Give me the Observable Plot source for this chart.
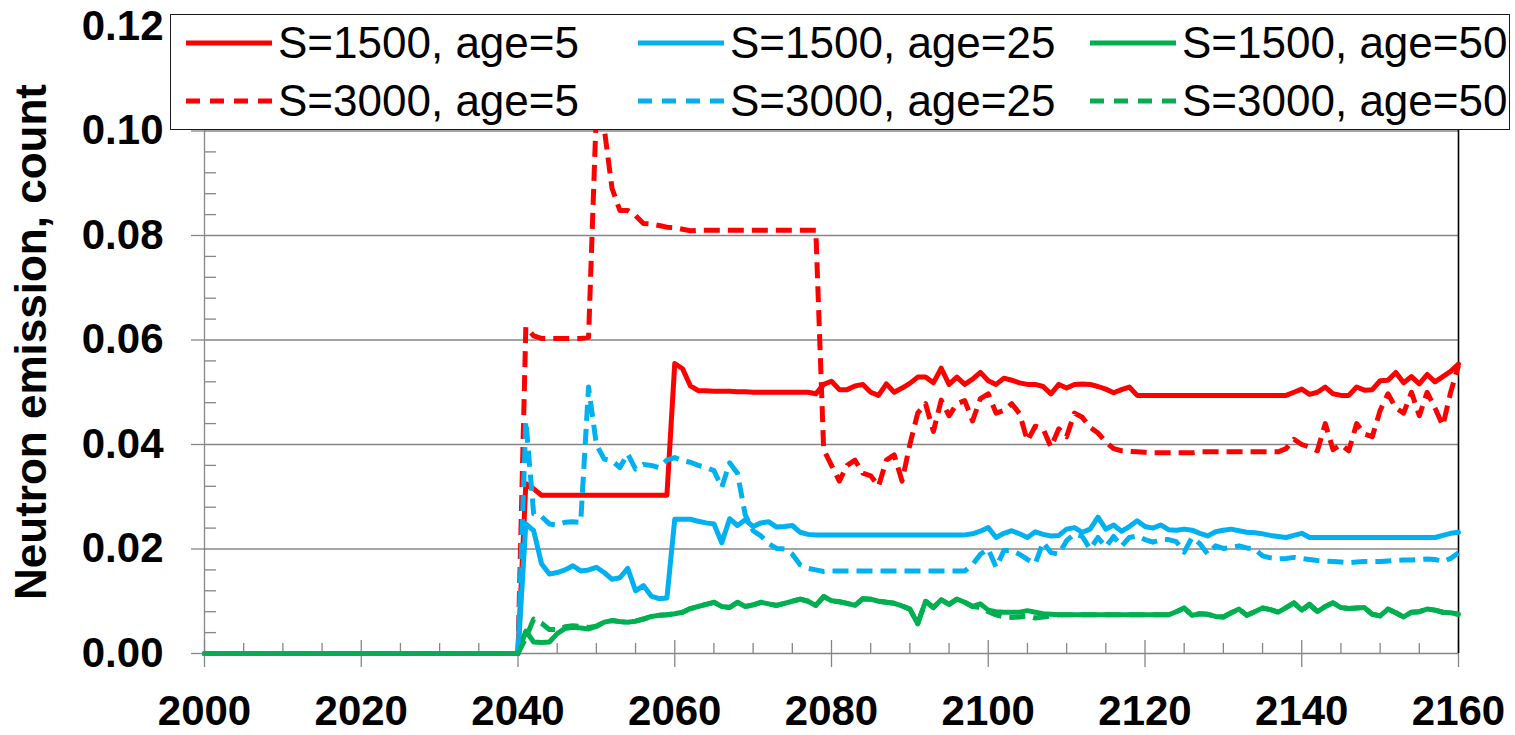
<!DOCTYPE html>
<html>
<head>
<meta charset="utf-8">
<script src="https://cdn.jsdelivr.net/npm/d3@7"></script>
<script src="https://cdn.jsdelivr.net/npm/@observablehq/plot@0.6"></script>
<style>
  html, body { margin: 0; padding: 0; background: #fff; }
  #chart { position: relative; width: 1515px; height: 735px; overflow: hidden;
           font-family: "Liberation Sans", Arial, sans-serif; }
  #legend { position: absolute; left: 170px; top: 14px; width: 1340px; height: 116px;
            box-sizing: border-box; border: 1.5px solid #1a1a1a; background: #fff; }
  .item { position: absolute; height: 44px; display: flex; align-items: center; }
  .item svg { display: block; }
  .item span { font-size: 44px; line-height: 44px; color: #000; white-space: nowrap; margin-left: 6px; }
</style>
</head>
<body>
<div id="chart"></div>
<script>
// Years: flat zero from 2000, then yearly values 2040–2160
const years = [2000].concat(d3.range(2040, 2161));

// Axis ticks
const xMajor = [2000, 2020, 2040, 2060, 2080, 2100, 2120, 2140, 2160];
const xMinor = d3.range(2005, 2160, 5).filter(y => y % 20 !== 0);
const yMajor = [0, 0.02, 0.04, 0.06, 0.08, 0.10, 0.12];
const yMinor = d3.range(1, 30).filter(i => i % 5 !== 0).map(i => i * 0.004);

const yTitle = "Neutron emission, count";

// Series values (first entry is year 2000, then 2040, 2041, ... 2160)
const s1500age5 = [0,
  0, 0.0325, 0.0315, 0.0303, 0.0303, 0.0303, 0.0303, 0.0303, 0.0303, 0.0303,
  0.0303, 0.0303, 0.0303, 0.0303, 0.0303, 0.0303, 0.0303, 0.0303, 0.0303, 0.0303,
  0.0555, 0.0545, 0.0512, 0.0503, 0.0503, 0.0502, 0.0502, 0.0502, 0.0501, 0.0501,
  0.0500, 0.0500, 0.0500, 0.0500, 0.0500, 0.0500, 0.0500, 0.0500, 0.0497, 0.0515,
  0.0521, 0.0505, 0.0505, 0.0512, 0.0515, 0.0500, 0.0494, 0.0516, 0.0500, 0.0508,
  0.0517, 0.0529, 0.0529, 0.0518, 0.0546, 0.0515, 0.0529, 0.0515, 0.0525, 0.0538,
  0.0522, 0.0515, 0.0527, 0.0523, 0.0518, 0.0515, 0.0515, 0.0511, 0.0497, 0.0515,
  0.0508, 0.0515, 0.0516, 0.0515, 0.0511, 0.0506, 0.0499, 0.0505, 0.0510, 0.0494,
  0.0494, 0.0494, 0.0494, 0.0494, 0.0494, 0.0494, 0.0494, 0.0494, 0.0494, 0.0494,
  0.0494, 0.0494, 0.0494, 0.0494, 0.0494, 0.0494, 0.0494, 0.0494, 0.0494, 0.0500,
  0.0506, 0.0496, 0.0500, 0.0510, 0.0497, 0.0494, 0.0494, 0.0510, 0.0504, 0.0505,
  0.0522, 0.0523, 0.0538, 0.0518, 0.0530, 0.0516, 0.0534, 0.0520, 0.0530, 0.0540,
  0.0554];

const s3000age5 = [0,
  0, 0.0625, 0.0608, 0.0603, 0.0603, 0.0603, 0.0603, 0.0603, 0.0603, 0.0605,
  0.1040, 0.1005, 0.0890, 0.0848, 0.0848, 0.0838, 0.0823, 0.0822, 0.0819, 0.0816,
  0.0815, 0.0812, 0.0809, 0.0810, 0.0810, 0.0810, 0.0810, 0.0810, 0.0810, 0.0810,
  0.0810, 0.0810, 0.0810, 0.0810, 0.0810, 0.0810, 0.0810, 0.0810, 0.0810, 0.0390,
  0.0360, 0.0330, 0.0360, 0.0370, 0.0345, 0.0340, 0.0320, 0.0370, 0.0380, 0.0330,
  0.0400, 0.0460, 0.0478, 0.0425, 0.0485, 0.0455, 0.0478, 0.0484, 0.0445, 0.0488,
  0.0497, 0.0460, 0.0465, 0.0478, 0.0459, 0.0407, 0.0435, 0.0430, 0.0395, 0.0430,
  0.0415, 0.0460, 0.0452, 0.0433, 0.0422, 0.0405, 0.0392, 0.0388, 0.0387, 0.0386,
  0.0385, 0.0384, 0.0384, 0.0384, 0.0384, 0.0384, 0.0384, 0.0386, 0.0386, 0.0386,
  0.0386, 0.0386, 0.0386, 0.0386, 0.0386, 0.0386, 0.0386, 0.0386, 0.0392, 0.0410,
  0.0400, 0.0395, 0.0388, 0.0440, 0.0390, 0.0400, 0.0388, 0.0440, 0.0420, 0.0415,
  0.0465, 0.0497, 0.0470, 0.0460, 0.0500, 0.0455, 0.0500, 0.0470, 0.0436, 0.0500,
  0.0551];

const s1500age25 = [0,
  0, 0.0248, 0.0235, 0.0172, 0.0152, 0.0155, 0.0160, 0.0168, 0.0158, 0.0160,
  0.0165, 0.0155, 0.0142, 0.0145, 0.0163, 0.0120, 0.0130, 0.0110, 0.0105, 0.0106,
  0.0257, 0.0257, 0.0257, 0.0253, 0.0250, 0.0248, 0.0212, 0.0258, 0.0245, 0.0256,
  0.0243, 0.0250, 0.0252, 0.0242, 0.0243, 0.0245, 0.0232, 0.0228, 0.0227, 0.0227,
  0.0227, 0.0227, 0.0227, 0.0227, 0.0227, 0.0227, 0.0227, 0.0227, 0.0227, 0.0227,
  0.0227, 0.0227, 0.0227, 0.0227, 0.0227, 0.0227, 0.0227, 0.0227, 0.0229, 0.0234,
  0.0241, 0.0222, 0.0230, 0.0235, 0.0229, 0.0222, 0.0233, 0.0228, 0.0225, 0.0226,
  0.0238, 0.0241, 0.0232, 0.0238, 0.0261, 0.0238, 0.0246, 0.0234, 0.0243, 0.0254,
  0.0243, 0.0240, 0.0246, 0.0237, 0.0236, 0.0238, 0.0236, 0.0230, 0.0225, 0.0233,
  0.0236, 0.0238, 0.0235, 0.0232, 0.0231, 0.0229, 0.0226, 0.0224, 0.0222, 0.0226,
  0.0230, 0.0222, 0.0222, 0.0222, 0.0222, 0.0222, 0.0222, 0.0222, 0.0222, 0.0222,
  0.0222, 0.0222, 0.0222, 0.0222, 0.0222, 0.0222, 0.0222, 0.0222, 0.0226, 0.0230,
  0.0232];

const s3000age25 = [0,
  0, 0.0445, 0.0267, 0.0262, 0.0248, 0.0246, 0.0251, 0.0252, 0.0251, 0.0510,
  0.0400, 0.0372, 0.0369, 0.0356, 0.0382, 0.0353, 0.0362, 0.0360, 0.0356, 0.0370,
  0.0375, 0.0369, 0.0366, 0.0360, 0.0356, 0.0350, 0.0318, 0.0365, 0.0345, 0.0265,
  0.0235, 0.0225, 0.0210, 0.0201, 0.0200, 0.0190, 0.0170, 0.0163, 0.0160, 0.0157,
  0.0158, 0.0158, 0.0158, 0.0158, 0.0158, 0.0158, 0.0158, 0.0158, 0.0158, 0.0158,
  0.0158, 0.0158, 0.0158, 0.0158, 0.0158, 0.0158, 0.0158, 0.0158, 0.0170, 0.0190,
  0.0200, 0.0165, 0.0197, 0.0197, 0.0190, 0.0180, 0.0172, 0.0213, 0.0193, 0.0190,
  0.0216, 0.0229, 0.0224, 0.0200, 0.0222, 0.0204, 0.0224, 0.0205, 0.0222, 0.0225,
  0.0218, 0.0213, 0.0218, 0.0218, 0.0214, 0.0194, 0.0222, 0.0210, 0.0190, 0.0206,
  0.0201, 0.0203, 0.0206, 0.0202, 0.0200, 0.0187, 0.0183, 0.0181, 0.0182, 0.0184,
  0.0182, 0.0180, 0.0178, 0.0177, 0.0176, 0.0175, 0.0174, 0.0175, 0.0176, 0.0176,
  0.0176, 0.0177, 0.0178, 0.0179, 0.0179, 0.0180, 0.0181, 0.0180, 0.0176, 0.0182,
  0.0193];

const s1500age50 = [0,
  0, 0.0043, 0.0022, 0.0021, 0.0022, 0.0038, 0.0048, 0.0050, 0.0049, 0.0047,
  0.0052, 0.0060, 0.0063, 0.0061, 0.0060, 0.0062, 0.0066, 0.0071, 0.0073, 0.0074,
  0.0076, 0.0079, 0.0086, 0.0090, 0.0094, 0.0098, 0.0090, 0.0088, 0.0098, 0.0090,
  0.0093, 0.0098, 0.0095, 0.0092, 0.0096, 0.0100, 0.0104, 0.0100, 0.0092, 0.0109,
  0.0101, 0.0099, 0.0096, 0.0092, 0.0105, 0.0104, 0.0100, 0.0098, 0.0096, 0.0091,
  0.0085, 0.0057, 0.0100, 0.0088, 0.0103, 0.0094, 0.0104, 0.0098, 0.0090, 0.0095,
  0.0083, 0.0080, 0.0079, 0.0079, 0.0079, 0.0082, 0.0079, 0.0076, 0.0075, 0.0074,
  0.0074, 0.0074, 0.0074, 0.0074, 0.0074, 0.0074, 0.0074, 0.0074, 0.0074, 0.0074,
  0.0074, 0.0074, 0.0074, 0.0074, 0.0080, 0.0087, 0.0073, 0.0076, 0.0075, 0.0071,
  0.0070, 0.0078, 0.0085, 0.0073, 0.0080, 0.0087, 0.0084, 0.0079, 0.0088, 0.0097,
  0.0083, 0.0094, 0.0080, 0.0090, 0.0097, 0.0088, 0.0086, 0.0087, 0.0088, 0.0075,
  0.0072, 0.0085, 0.0078, 0.0070, 0.0079, 0.0080, 0.0085, 0.0083, 0.0079, 0.0078,
  0.0075];

const s3000age50 = [0,
  0, 0.0030, 0.0066, 0.0058, 0.0046, 0.0046, 0.0051, 0.0053, 0.0052, 0.0050,
  0.0052, 0.0060, 0.0063, 0.0061, 0.0060, 0.0062, 0.0066, 0.0071, 0.0073, 0.0074,
  0.0076, 0.0079, 0.0086, 0.0090, 0.0094, 0.0098, 0.0090, 0.0088, 0.0098, 0.0090,
  0.0093, 0.0098, 0.0095, 0.0092, 0.0096, 0.0100, 0.0104, 0.0100, 0.0092, 0.0109,
  0.0101, 0.0099, 0.0096, 0.0092, 0.0105, 0.0104, 0.0100, 0.0098, 0.0096, 0.0091,
  0.0085, 0.0057, 0.0100, 0.0088, 0.0103, 0.0094, 0.0104, 0.0098, 0.0090, 0.0088,
  0.0080, 0.0074, 0.0070, 0.0069, 0.0070, 0.0072, 0.0068, 0.0070, 0.0072, 0.0074,
  0.0074, 0.0074, 0.0074, 0.0074, 0.0074, 0.0074, 0.0074, 0.0074, 0.0074, 0.0074,
  0.0074, 0.0074, 0.0074, 0.0074, 0.0080, 0.0087, 0.0073, 0.0076, 0.0075, 0.0071,
  0.0070, 0.0078, 0.0085, 0.0073, 0.0080, 0.0087, 0.0084, 0.0079, 0.0088, 0.0097,
  0.0083, 0.0094, 0.0080, 0.0090, 0.0097, 0.0088, 0.0086, 0.0087, 0.0088, 0.0075,
  0.0072, 0.0085, 0.0078, 0.0070, 0.0079, 0.0080, 0.0085, 0.0083, 0.0079, 0.0078,
  0.0075];

// Series in legend order (row by row)
const seriesLabels = ["S=1500, age=5", "S=1500, age=25", "S=1500, age=50",
                      "S=3000, age=5", "S=3000, age=25", "S=3000, age=50"];
const seriesValues = [s1500age5, s1500age25, s1500age50, s3000age5, s3000age25, s3000age50];
const seriesColors = ["#ff0000", "#00b0f0", "#00b050", "#ff0000", "#00b0f0", "#00b050"];
const seriesDashed = [false, false, false, true, true, true];

const FONT = '"Liberation Sans", Arial, sans-serif';
const GRID = "#868686";
const DASH = "16,8";
const LINE_W = 5;

const lineMarks = seriesValues.map((vals, k) => {
  const rows = years.map((year, i) => ({year, value: vals[i]}));
  return Plot.line(rows, {
    x: "year", y: "value",
    stroke: seriesColors[k], strokeWidth: LINE_W,
    strokeDasharray: seriesDashed[k] ? DASH : undefined,
    strokeLinejoin: "round",
    strokeLinecap: seriesDashed[k] ? "butt" : "round"
  });
});

const svg = Plot.plot({
  width: 1515, height: 735,
  marginLeft: 204, marginRight: 57, marginTop: 26, marginBottom: 82,
  x: {type: "linear", domain: [2000, 2160]},
  y: {type: "linear", domain: [0, 0.12]},
  style: {background: "#fff", color: "#000", fontFamily: FONT, fontWeight: "bold", fontSize: "42px"},
  marks: [
    // horizontal gridlines
    Plot.ruleY(yMajor.slice(1), {stroke: GRID, strokeOpacity: 1, strokeWidth: 1.3}),
    // y tick marks: major outward, minor inward
    Plot.ruleY(yMajor, {x1: 2000, x2: 2000, insetLeft: -13, stroke: GRID, strokeWidth: 1.3}),
    Plot.ruleY(yMinor, {x1: 2000, x2: 2000, insetRight: -12, stroke: GRID, strokeWidth: 1.3}),
    // x tick marks: major crossing, minor inward
    Plot.ruleX(xMajor, {y1: 0, y2: 0, insetTop: -13, insetBottom: -14, stroke: GRID, strokeWidth: 1.3}),
    Plot.ruleX(xMinor, {y1: 0, y2: 0, insetTop: -10, stroke: GRID, strokeWidth: 1.3}),
    // axis lines and right border
    Plot.ruleY([0], {stroke: GRID, strokeWidth: 1.3}),
    Plot.ruleX([2000], {y1: 0, y2: 0.12, insetBottom: -14, stroke: GRID, strokeWidth: 1.3}),
    Plot.ruleX([2160], {y1: 0, y2: 0.12, stroke: "#000", strokeWidth: 1.6}),
    Plot.axisX({ticks: xMajor, tickSize: 0, tickPadding: 42, tickFormat: d => String(d), label: null}),
    Plot.axisY({ticks: yMajor, tickSize: 0, tickPadding: 41, tickFormat: d3.format(".2f"), label: null}),
    ...lineMarks,
    Plot.text([yTitle], {frameAnchor: "left", textAnchor: "middle", rotate: -90, dx: -173, dy: 2,
                         fontSize: 44, fontWeight: "bold"})
  ]
});

const chart = document.getElementById("chart");
chart.appendChild(svg);

// Legend box drawn over the top of the plot area
const legend = document.createElement("div");
legend.id = "legend";
const colLeft = [15, 467, 919];
const rowTop = [6, 64];
seriesLabels.forEach((label, k) => {
  const item = document.createElement("div");
  item.className = "item";
  item.style.left = colLeft[k % 3] + "px";
  item.style.top = rowTop[Math.floor(k / 3)] + "px";
  const s = d3.create("svg").attr("width", 86).attr("height", 44);
  s.append("line")
    .attr("x1", 0).attr("x2", 86).attr("y1", 22).attr("y2", 22)
    .attr("stroke", seriesColors[k]).attr("stroke-width", LINE_W)
    .attr("stroke-dasharray", seriesDashed[k] ? "14,10" : null);
  item.appendChild(s.node());
  const span = document.createElement("span");
  span.textContent = label;
  item.appendChild(span);
  legend.appendChild(item);
});
chart.appendChild(legend);
</script>
</body>
</html>
